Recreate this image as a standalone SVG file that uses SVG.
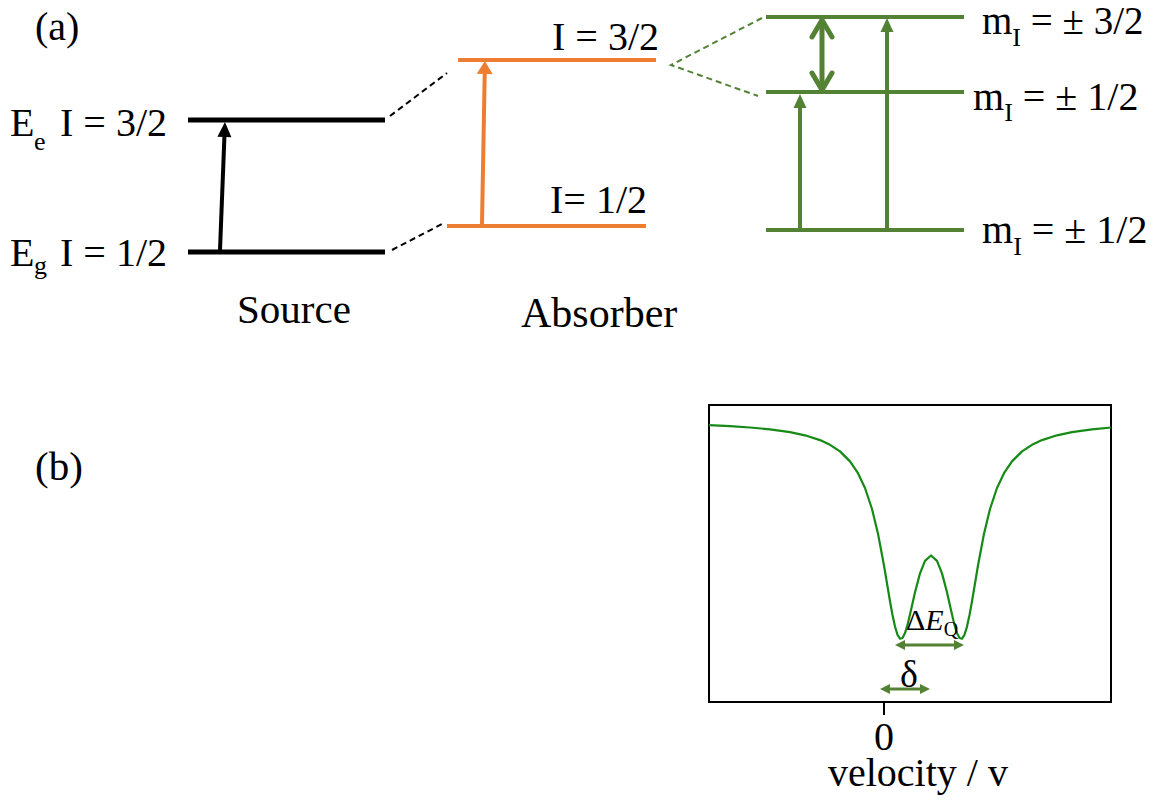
<svg xmlns="http://www.w3.org/2000/svg" width="1161" height="801" viewBox="0 0 1161 801">
  <style>
    .t { font-family: "Liberation Serif", "Times New Roman", serif; fill: #000; }
    .lvk { stroke: #000; stroke-width: 5; }
    .lvo { stroke: #ED7D31; stroke-width: 4; }
    .lvg { stroke: #548235; stroke-width: 4; }
    .dk { stroke: #000; stroke-width: 2; stroke-dasharray: 6 4; fill: none; }
    .dg { stroke: #548235; stroke-width: 2; stroke-dasharray: 6 4; fill: none; }
  </style>
  <defs>
    <marker id="hk" markerUnits="userSpaceOnUse" markerWidth="15" markerHeight="14" refX="0" refY="7" orient="auto" overflow="visible">
      <path d="M0,0 L15,7 L0,14 z" fill="#000"/>
    </marker>
    <marker id="ho" markerUnits="userSpaceOnUse" markerWidth="13" markerHeight="16" refX="0" refY="8" orient="auto" overflow="visible">
      <path d="M0,0 L13,8 L0,16 z" fill="#ED7D31"/>
    </marker>
    <marker id="hg" markerUnits="userSpaceOnUse" markerWidth="14" markerHeight="13" refX="0" refY="6.5" orient="auto" overflow="visible">
      <path d="M0,0 L14,6.5 L0,13 z" fill="#548235"/>
    </marker>
    <marker id="hs" markerUnits="userSpaceOnUse" markerWidth="10" markerHeight="10" refX="0" refY="5" orient="auto" overflow="visible">
      <path d="M0,0 L10,5 L0,10 z" fill="#548235"/>
    </marker>
    <marker id="hs0" markerUnits="userSpaceOnUse" markerWidth="10" markerHeight="10" refX="0" refY="5" orient="auto-start-reverse" overflow="visible">
      <path d="M0,0 L10,5 L0,10 z" fill="#548235"/>
    </marker>
  </defs>

  <!-- panel labels -->
  <text class="t" x="35" y="40" font-size="40">(a)</text>
  <text class="t" x="35" y="480" font-size="41">(b)</text>

  <!-- Source levels -->
  <g id="source-excited">
    <line class="lvk" x1="188" y1="120" x2="385" y2="120"/>
    <text class="t" x="10" y="136" font-size="40">E</text>
    <text class="t" x="34" y="150" font-size="26">e</text>
    <text class="t" x="60" y="136" font-size="40">I = 3/2</text>
  </g>
  <g id="source-ground">
    <line class="lvk" x1="188" y1="252" x2="385" y2="252"/>
    <text class="t" x="10" y="266" font-size="40">E</text>
    <text class="t" x="34" y="274" font-size="26">g</text>
    <text class="t" x="60" y="266" font-size="40">I = 1/2</text>
  </g>
  <text class="t" x="237" y="323" font-size="41">Source</text>

  <!-- Absorber levels -->
  <g id="absorber-excited">
    <line class="lvo" x1="458" y1="60" x2="656" y2="60"/>
    <text class="t" x="552" y="50" font-size="40">I = 3/2</text>
  </g>
  <g id="absorber-ground">
    <line class="lvo" x1="447" y1="226" x2="646" y2="226"/>
    <text class="t" x="550" y="213" font-size="40">I= 1/2</text>
  </g>
  <text class="t" x="521" y="327" font-size="42">Absorber</text>

  <!-- Split levels -->
  <g id="split-32">
    <line class="lvg" x1="766" y1="17" x2="964" y2="17"/>
    <text class="t" x="982" y="34" font-size="39">m<tspan font-size="26" dy="12">I</tspan><tspan dy="-12"> = ± 3/2</tspan></text>
  </g>
  <g id="split-12">
    <line class="lvg" x1="766" y1="92" x2="964" y2="92"/>
    <text class="t" x="973" y="110" font-size="40">m<tspan font-size="26" dy="11">I</tspan><tspan dy="-11"> = ± 1/2</tspan></text>
  </g>
  <g id="split-ground">
    <line class="lvg" x1="766" y1="230" x2="964" y2="230"/>
    <text class="t" x="982" y="243" font-size="40">m<tspan font-size="26" dy="12">I</tspan><tspan dy="-12"> = ± 1/2</tspan></text>
  </g>

  <!-- connectors -->
  <g id="connectors">
    <line class="dk" x1="390" y1="116" x2="447" y2="73"/>
    <line class="dk" x1="392" y1="250" x2="442" y2="224"/>
    <path class="dg" d="M762,18 L671,65 L758,96"/>
    <line x1="220" y1="250" x2="224.4" y2="137" stroke="#000" stroke-width="4" marker-end="url(#hk)"/>
    <line x1="482" y1="224" x2="484.7" y2="74" stroke="#ED7D31" stroke-width="4" marker-end="url(#ho)"/>
    <line x1="800" y1="228" x2="800" y2="108" stroke="#548235" stroke-width="4" marker-end="url(#hg)"/>
    <line x1="887" y1="228" x2="887" y2="32" stroke="#548235" stroke-width="4" marker-end="url(#hg)"/>
    <g stroke="#548235" stroke-width="5" stroke-linecap="round" stroke-linejoin="round" fill="none">
      <line x1="822" y1="21" x2="822" y2="88"/>
      <path d="M812,37 L822,20 L832,37"/>
      <path d="M812,73 L822,90 L832,73"/>
    </g>
  </g>

  <!-- (b) spectrum -->
  <g id="spectrum">
    <rect x="709" y="405" width="402" height="297" fill="none" stroke="#000" stroke-width="2"/>
    <line x1="884" y1="702" x2="884" y2="715" stroke="#000" stroke-width="2"/>
    <polyline fill="none" stroke="#168a16" stroke-width="2.2" stroke-linejoin="round"
      points="709,425.2 730,426.2 750,427.5 770,429.3 790,432.1 805,435.3 820,440.1 830,444.8 840,451.4 850,461.4 858,473.2 865,488 872,509 878,533.7 884,565.5 890,601.2 892.5,615 895,626.6 897.5,634.8 900,638.7 902.5,638 905,633.1 907.5,624.9 910,614.6 915,592.3 920,573.4 925,560.9 931,555.5 937,560.9 942,573.4 947,592.3 952,614.6 954.5,624.9 957,633.1 959.5,638 962,638.7 964.5,634.8 967,626.6 969.5,615 972,601.2 978,565.5 984,533.7 990,509 997,488 1004,473.2 1012,461.4 1022,451.4 1032,444.8 1042,440.1 1057,435.3 1072,432.1 1092,429.3 1111,427.5"/>
    <text class="t" x="884" y="750" font-size="40" text-anchor="middle">0</text>
    <text class="t" x="828" y="786" font-size="40">velocity / v</text>
  </g>
  <g id="dEQ">
    <line x1="905" y1="645" x2="954" y2="645" stroke="#548235" stroke-width="3" marker-start="url(#hs0)" marker-end="url(#hs)"/>
    <text class="t" x="906" y="630" font-size="30">Δ<tspan font-style="italic">E</tspan><tspan font-size="20" dy="6">Q</tspan></text>
  </g>
  <g id="delta">
    <line x1="890" y1="689" x2="920" y2="689" stroke="#548235" stroke-width="3" marker-start="url(#hs0)" marker-end="url(#hs)"/>
    <text class="t" x="909" y="687" font-size="38" text-anchor="middle">δ</text>
  </g>
</svg>
